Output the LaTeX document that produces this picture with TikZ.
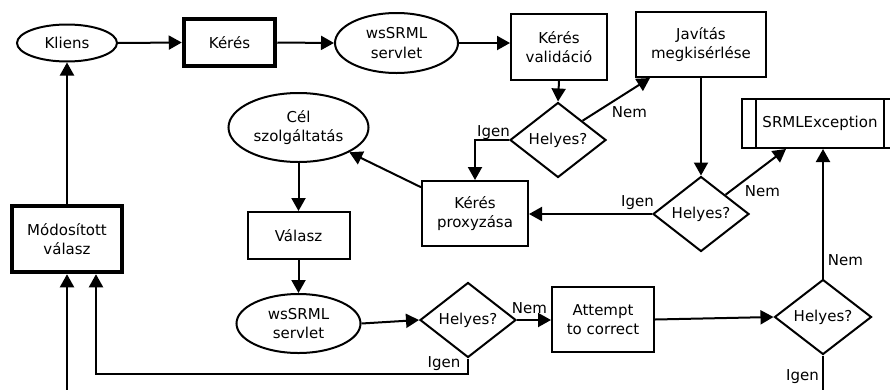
\documentclass[tikz,border=0pt]{standalone}
\usepackage{fontspec}
\setmainfont{DejaVu Sans}
\usetikzlibrary{shapes.geometric,arrows.meta}

\begin{document}
\begin{tikzpicture}[x=1pt,y=-1pt,
  every node/.style={font=\fontsize{15}{19.5}\selectfont, align=center},
  box/.style={draw, line width=2pt, rectangle, inner sep=0pt},
  heavybox/.style={draw, line width=4.5pt, rectangle, inner sep=0pt},
  oval/.style={draw, line width=2pt, ellipse, inner sep=0pt},
  decision/.style={draw, line width=2pt, diamond, inner sep=0pt,
                   minimum width=96pt, minimum height=75pt},
  flow/.style={line width=2pt, -{Triangle[length=13pt,width=14pt]}},
  link/.style={line width=2pt},
  lbl/.style={inner sep=0pt}
]
\useasboundingbox (0,0) rectangle (890,389);
\clip (0,0) rectangle (890,389);
\fill[white] (0,0) rectangle (890,389);

% request path
\node[oval, minimum width=100pt, minimum height=37pt] (kliens) at (67,43) {Kliens};
\node[heavybox, minimum width=91pt, minimum height=47pt] (keres) at (229.5,42.5) {Kérés};
\node[oval, minimum width=123pt, minimum height=60pt] (ws1) at (396.5,43) {wsSRML\\servlet};
\node[box, minimum width=96pt, minimum height=66pt] (valid) at (559,47) {Kérés\\validáció};
\node[decision] (d1) at (558,140) {Helyes?};
\node[box, minimum width=130pt, minimum height=65pt] (javit) at (701,44.5) {Javítás\\megkisérlése};
\node[decision] (d2) at (701,214) {Helyes?};
\node[box, minimum width=156pt, minimum height=49pt] (srml) at (820,123.5) {SRMLException};
\draw[link] ([xshift=15pt]srml.north west) -- ([xshift=15pt]srml.south west);
\draw[link] ([xshift=-15pt]srml.north east) -- ([xshift=-15pt]srml.south east);
\node[box, minimum width=106pt, minimum height=65pt] (proxy) at (475,213.5) {Kérés\\proxyzása};

% response path
\node[oval, minimum width=140pt, minimum height=69pt] (cel) at (298.5,127.5) {Cél\\szolgáltatás};
\node[box, minimum width=102pt, minimum height=47pt] (valasz) at (298.5,235.5) {Válasz};
\node[oval, minimum width=124pt, minimum height=59pt] (ws2) at (298.5,323.5) {wsSRML\\servlet};
\node[decision] (d3) at (468,320) {Helyes?};
\node[box, minimum width=102pt, minimum height=65pt] (attempt) at (603,319.5) {Attempt\\to correct};
\node[decision, minimum width=97pt] (d4) at (823,317) {Helyes?};
\node[heavybox, minimum width=110pt, minimum height=66pt] (modos) at (67,239) {Módosított\\válasz};

% free ends and bends
\coordinate (inlet) at (67,395);
\coordinate (outlet) at (823,395);
\coordinate (loopc) at (96,374);

% connectors of the request path
\draw[flow] (kliens.east) -- (keres.west);
\draw[flow] (keres.east) -- (ws1.west);
\draw[flow] (ws1.east) -- (ws1.east -| valid.west);
\draw[flow] (valid.south) -- (d1.north);
\draw[flow] (d1.north east) -- ([xshift=15pt]javit.south west);
\draw[flow] (javit.south) -- (d2.north);
\draw[flow] (d2.north east) -- ([xshift=45pt]srml.south west);
\draw[flow] (d2.west) -- (d2.west -| proxy.east);
\draw[flow] (d1.west) -| (proxy.north);
\draw[flow] (proxy) -- (cel);

% connectors of the response path
\draw[flow] (cel.south) -- (valasz.north);
\draw[flow] (valasz.south) -- (ws2.north);
\draw[flow] (ws2.east) -- (d3.west);
\draw[flow] (d3.east) -- (d3.east -| attempt.west);
\draw[flow] (attempt.east) -- (d4.west);
\draw[flow] (d4.north) -- (d4.north |- srml.south);
\draw[link] (d4.south) -- (outlet);
\draw[flow] (d3.south) |- (loopc) -- ([xshift=29pt]modos.south);
\draw[flow] (inlet) -- (modos.south);
\draw[flow] (modos.north) -- (kliens.south);

% branch labels
\node[lbl] (n1) at (629.5,112.5) {Nem};
\node[lbl] (i1) at (493.5,133) {Igen};
\node[lbl] (n2) at (762.5,191.5) {Nem};
\node[lbl] (i2) at (637.5,203) {Igen};
\node[lbl] (n3) at (529.5,308.5) {Nem};
\node[lbl] (i3) at (444,364) {Igen};
\node[lbl] (n4) at (845.5,260.5) {Nem};
\node[lbl] (i4) at (802.5,376.5) {Igen};
\end{tikzpicture}
\end{document}
